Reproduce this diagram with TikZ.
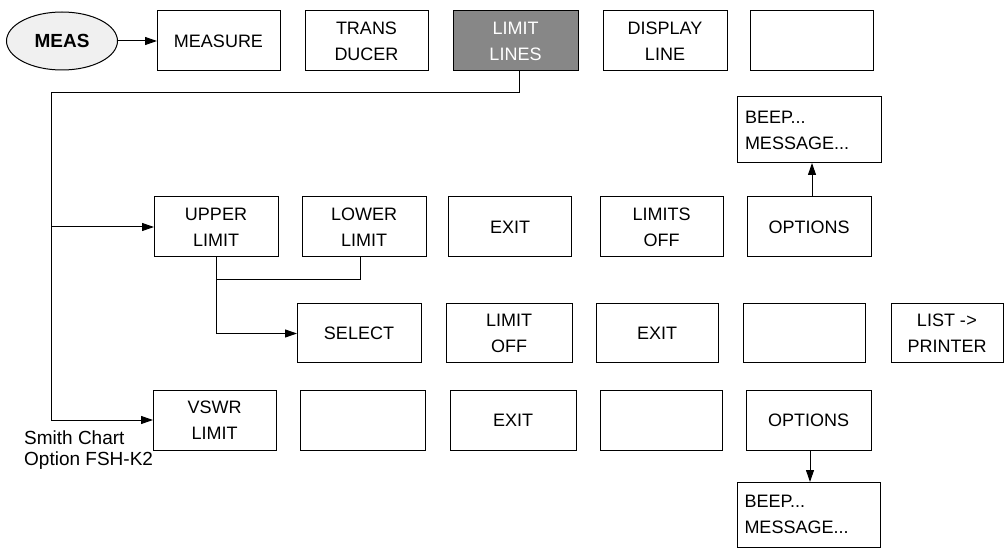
\documentclass[tikz,border=0pt]{standalone}
\usepackage{fontspec}
\setmainfont{Liberation Sans}
\usetikzlibrary{arrows.meta,shapes.geometric}
\begin{document}
\begin{tikzpicture}[x=1pt,y=-1pt,
  key/.style={draw, line width=1pt, inner sep=0pt, outer sep=0pt,
    minimum height=60pt, minimum width=123pt, align=center,
    font=\fontsize{18}{26}\selectfont},
  notebox/.style={key, align=left, text width=128pt, minimum width=144pt, minimum height=66pt},
  link/.style={line width=1pt},
  arr/.style={link, -{Triangle[length=12pt,width=8pt]}},
]
\useasboundingbox (0,0) rectangle (1005,548);

% Row 1
\node[ellipse, draw, line width=1pt, fill=gray!12, inner sep=0pt, outer sep=0pt,
  minimum width=111pt, minimum height=58pt, font=\fontsize{19}{22}\selectfont\bfseries] (meas) at (62,41) {MEAS};
\node[key] (measure) at (218.5,41) {MEASURE};
\node[key] (trans) at (366.5,41) {TRANS\\DUCER};
\node[key, minimum width=125pt, fill={rgb,255:red,135;green,135;blue,135}, text=white] (limlines) at (515.5,41) {LIMIT\\LINES};
\node[key, minimum width=124pt] (display) at (665,41) {DISPLAY\\LINE};
\node[key] (emptyA) at (811.5,41) {};

% Options sub-menu (upper)
\node[notebox] (beepA) at (809,130) {BEEP...\\MESSAGE...};

% Row 2
\node[key, minimum width=124pt] (upper) at (216,227) {UPPER\\LIMIT};
\node[key, minimum width=124pt] (lower) at (364,227) {LOWER\\LIMIT};
\node[key] (exitA) at (510,227) {EXIT};
\node[key] (limitsoff) at (661.5,227) {LIMITS\\OFF};
\node[key, minimum width=124pt] (optA) at (809,227) {OPTIONS};

% Row 3
\node[key, minimum width=124pt, minimum height=59pt] (select) at (359,333.5) {SELECT};
\node[key, minimum width=126pt, minimum height=59pt] (limitoff) at (509,333.5) {LIMIT\\OFF};
\node[key, minimum width=122pt, minimum height=59pt] (exitB) at (657,333.5) {EXIT};
\node[key, minimum width=122pt, minimum height=59pt] (emptyB) at (804,333.5) {};
\node[key, minimum width=112pt, minimum height=59pt] (list) at (947,333.5) {LIST -\kern0.5pt>\\PRINTER};

% Row 4
\node[key] (vswr) at (214.5,420) {VSWR\\LIMIT};
\node[key, minimum width=125pt] (emptyC) at (362.5,420) {};
\node[key, minimum width=126pt] (exitC) at (513,420) {EXIT};
\node[key, minimum width=122pt] (emptyD) at (661,420) {};
\node[key, minimum width=125pt] (optB) at (808.5,420) {OPTIONS};

% Options sub-menu (lower)
\node[notebox, minimum width=143pt, minimum height=65pt] (beepB) at (808.5,514.5) {BEEP...\\MESSAGE...};

% Caption
\node[anchor=west, align=left, inner sep=0pt, font=\fontsize{19}{21}\selectfont] (smith) at (24,450) {Smith Chart\\Option FSH-K2};

% Connectors
\coordinate (top) at (51,93);
\draw[arr] (meas) -- (measure);
\draw[link] ([xshift=3.5pt]limlines.south) |- (top);
\draw[arr] (top) |- (vswr.west);
\draw[arr] (top |- upper.west) -- (upper.west);
\draw[arr] (upper.south) |- (select.west);
\coordinate (join) at (upper.south |- 0,280);
\draw[link] ([xshift=-4pt]lower.south) |- (join);
\draw[arr] ([xshift=3pt]optA.north) -- ([xshift=3pt]optA.north |- beepA.south);
\draw[arr] ([xshift=1.5pt]optB.south) -- ([xshift=1.5pt]optB.south |- beepB.north);
\end{tikzpicture}
\end{document}
